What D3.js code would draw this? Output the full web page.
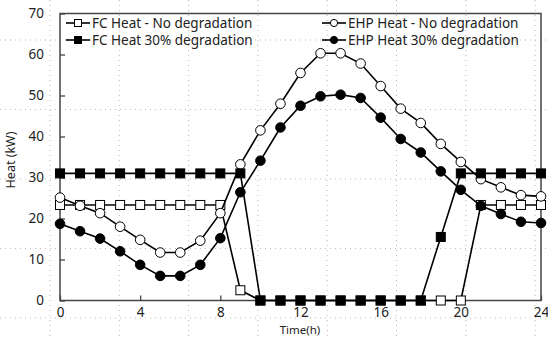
<!DOCTYPE html>
<html>
<head>
<meta charset="utf-8">
<script src="https://cdn.jsdelivr.net/npm/d3@7"></script>
<style>
  body { margin: 0; background: #fff; }
  text { font-family: "Noto Sans", "DejaVu Sans", sans-serif; fill: #222; }
</style>
</head>
<body>
<div id="chart"></div>
<script>
// hours 0..24
var hours = d3.range(0, 25);
var fcNoDeg  = [23.3,23.3,23.3,23.3,23.3,23.3,23.3,23.3,23.3,2.5,0,0,0,0,0,0,0,0,0,0,0,23.3,23.3,23.3,23.3];
var fc30     = [31,31,31,31,31,31,31,31,31,31,0,0,0,0,0,0,0,0,0,15.5,31,31,31,31,31];
var ehpNoDeg = [25.1,23.1,21.3,18.0,14.8,11.7,11.7,14.6,21.3,33.2,41.5,48.0,55.5,60.3,60.3,57.8,52.3,46.8,43.3,38.2,33.8,29.6,27.6,25.7,25.4];
var ehp30    = [18.7,16.9,15.1,12.0,8.7,6.0,6.0,8.7,15.2,26.4,34.1,42.2,47.5,49.8,50.2,49.4,44.6,39.4,36.1,31.5,27.0,23.1,21.1,19.2,18.9];
var xTicks = [0,4,8,12,16,20,24];
var yTicks = [0,10,20,30,40,50,60,70];

var series = [
  {name: "FC Heat - No degradation", values: fcNoDeg, shape: "square", fill: "#fff"},
  {name: "EHP Heat - No degradation", values: ehpNoDeg, shape: "circle", fill: "#fff"},
  {name: "FC Heat 30% degradation", values: fc30, shape: "square", fill: "#000"},
  {name: "EHP Heat 30% degradation", values: ehp30, shape: "circle", fill: "#000"}
];

var W = 548, H = 337;
var svg = d3.select("#chart").append("svg")
    .attr("width", W).attr("height", H);

// faint page grid behind the chart
var gridG = svg.append("g").attr("stroke", "#bbb").attr("stroke-width", 1)
    .attr("stroke-dasharray", "1,4");
d3.range(50, W, 69.3).forEach(function(gx) {
  gridG.append("line").attr("x1", gx).attr("x2", gx).attr("y1", 0).attr("y2", H);
});
d3.range(40, H, 69.5).forEach(function(gy) {
  gridG.append("line").attr("x1", 0).attr("x2", W).attr("y1", gy).attr("y2", gy);
});

var x = d3.scaleLinear().domain([0, 24]).range([60, 541]);
var y = d3.scaleLinear().domain([0, 70]).range([300.5, 13.5]);

// axes with inward ticks
var xAxis = svg.append("g")
    .attr("transform", "translate(0," + y(0) + ")")
    .call(d3.axisBottom(x).tickValues(xTicks).tickSizeInner(-5).tickSizeOuter(0).tickPadding(7));
var yAxis = svg.append("g")
    .attr("transform", "translate(" + x(0) + ",0)")
    .call(d3.axisLeft(y).tickValues(yTicks).tickSizeInner(-5).tickSizeOuter(0).tickPadding(16));
[xAxis, yAxis].forEach(function(a) {
  a.select(".domain").remove();
  a.selectAll(".tick line").attr("stroke", "#333").attr("stroke-width", 1.2);
  a.selectAll(".tick text").style("font-size", "13.5px").attr("fill", "#222");
});

// frame
svg.append("rect")
    .attr("x", x(0)).attr("y", y(70))
    .attr("width", x(24) - x(0)).attr("height", y(0) - y(70))
    .attr("fill", "none").attr("stroke", "#444").attr("stroke-width", 1.5);

var line = d3.line()
    .x(function(d, i) { return x(hours[i]); })
    .y(function(d) { return y(d); });

function drawMarker(g, shape, fill, cx, cy) {
  if (shape === "square") {
    g.append("rect").attr("x", cx - 4.5).attr("y", cy - 4.5)
      .attr("width", 9).attr("height", 9)
      .attr("fill", fill).attr("stroke", "#000").attr("stroke-width", 1);
  } else {
    g.append("circle").attr("cx", cx).attr("cy", cy).attr("r", 4.8)
      .attr("fill", fill).attr("stroke", "#000").attr("stroke-width", 1);
  }
}

series.forEach(function(s) {
  var g = svg.append("g");
  g.append("path").datum(s.values)
      .attr("d", line)
      .attr("fill", "none").attr("stroke", "#000").attr("stroke-width", 1.6);
  s.values.forEach(function(v, i) {
    drawMarker(g, s.shape, s.fill, x(hours[i]), y(v));
  });
});

// legend, two columns
var legendPos = [
  {lx: 66, ly: 23}, {lx: 322, ly: 23}, {lx: 66, ly: 40}, {lx: 322, ly: 40}
];
series.forEach(function(s, i) {
  var p = legendPos[i];
  var g = svg.append("g");
  g.append("line").attr("x1", p.lx).attr("x2", p.lx + 24)
      .attr("y1", p.ly).attr("y2", p.ly)
      .attr("stroke", "#000").attr("stroke-width", 1.6);
  if (s.shape === "square") {
    g.append("rect").attr("x", p.lx + 8.5).attr("y", p.ly - 3.5)
      .attr("width", 7).attr("height", 7)
      .attr("fill", s.fill).attr("stroke", "#000");
  } else {
    g.append("circle").attr("cx", p.lx + 12).attr("cy", p.ly).attr("r", 3.6)
      .attr("fill", s.fill).attr("stroke", "#000");
  }
  g.append("text").attr("x", p.lx + 26).attr("y", p.ly + 5)
      .style("font-size", "13.5px").text(s.name);
});

// axis titles
svg.append("text")
    .attr("x", 300).attr("y", 333.5)
    .attr("text-anchor", "middle")
    .style("font-size", "11.5px").text("Time(h)");
svg.append("text")
    .attr("transform", "translate(15,160) rotate(-90)")
    .attr("text-anchor", "middle")
    .style("font-size", "12.5px").text("Heat (kW)");
</script>
</body>
</html>
